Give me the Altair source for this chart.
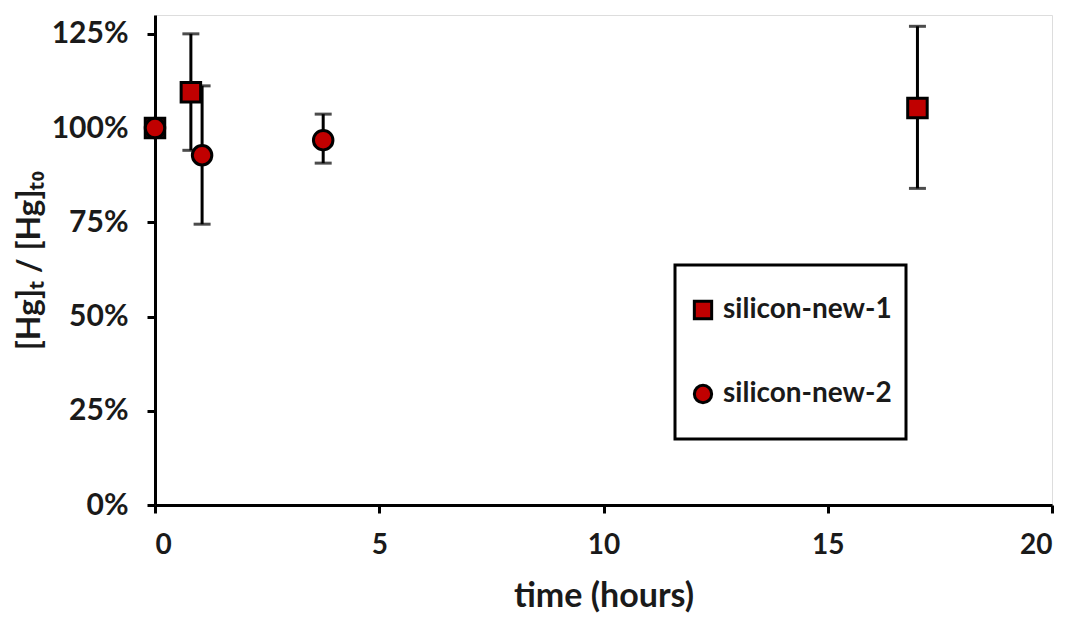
import altair as alt
import pandas as pd

# data
series = ["silicon-new-1", "silicon-new-1", "silicon-new-1",
          "silicon-new-2", "silicon-new-2", "silicon-new-2"]
time_h = [0.0, 0.8, 17.0, 0.0, 1.05, 3.75]
ratio = [1.00, 1.095, 1.053, 1.00, 0.928, 0.968]
err_lo = [1.00, 0.941, 0.84, 1.00, 0.745, 0.907]
err_hi = [1.00, 1.25, 1.27, 1.00, 1.112, 1.037]
x_ticks = [0, 5, 10, 15, 20]
y_ticks = [0, 0.25, 0.5, 0.75, 1.0, 1.25]
series_names = ["silicon-new-1", "silicon-new-2"]

df = pd.DataFrame({"series": series, "time": time_h, "ratio": ratio,
                   "lo": err_lo, "hi": err_hi})
err_df = df[df["hi"] > df["lo"]]

FONT = "Lato"
RED = "#C00000"
TXT = "#1a1a1a"

xs = alt.Scale(domain=[0, 20], nice=False)
ys = alt.Scale(domain=[0, 1.3], nice=False)

x_axis = alt.Axis(values=x_ticks, title="time (hours)", grid=False,
                  domainWidth=3, domainColor="black", tickWidth=3, tickSize=8,
                  tickColor="black", labelFont=FONT, labelFontSize=28,
                  labelFontWeight="bold", labelColor=TXT, labelPadding=18,
                  titleFont=FONT, titleFontSize=34, titleFontWeight="bold",
                  titleColor=TXT, titlePadding=20)
y_axis = alt.Axis(values=y_ticks, format=".0%", title="[Hg]ₜ / [Hg]ₜ₀", grid=False,
                  domainWidth=3, domainColor="black", tickWidth=3, tickSize=8,
                  tickColor="black", labelFont=FONT, labelFontSize=30,
                  labelFontWeight="bold", labelColor=TXT, labelPadding=19,
                  titleFont=FONT, titleFontSize=32, titleFontWeight="bold",
                  titleColor=TXT, titlePadding=5)

legend = alt.Legend(title=None, orient="none", legendX=520, legendY=250,
                    strokeColor="black", fillColor="white", padding=14,
                    clipHeight=62, rowPadding=22, symbolSize=300,
                    symbolStrokeWidth=3, labelFont=FONT, labelFontSize=28,
                    labelFontWeight="bold", labelColor=TXT, labelOffset=6,
                    labelLimit=400)

rules = alt.Chart(err_df).mark_rule(color="black", strokeWidth=3).encode(
    x=alt.X("time:Q", scale=xs, axis=x_axis),
    y=alt.Y("lo:Q", scale=ys, axis=y_axis),
    y2="hi:Q",
)
cap_lo = alt.Chart(err_df).mark_tick(color="black", thickness=3, size=17,
                                     orient="horizontal").encode(
    x=alt.X("time:Q", scale=xs), y=alt.Y("lo:Q", scale=ys))
cap_hi = alt.Chart(err_df).mark_tick(color="black", thickness=3, size=17,
                                     orient="horizontal").encode(
    x=alt.X("time:Q", scale=xs), y=alt.Y("hi:Q", scale=ys))

points = alt.Chart(df).mark_point(filled=False, fillOpacity=1, strokeWidth=3,
                                  size=380, opacity=1).encode(
    x=alt.X("time:Q", scale=xs),
    y=alt.Y("ratio:Q", scale=ys),
    shape=alt.Shape("series:N",
                    scale=alt.Scale(domain=series_names, range=["square", "circle"]),
                    legend=legend),
    fill=alt.Fill("series:N",
                  scale=alt.Scale(domain=series_names, range=[RED, RED]),
                  legend=legend),
    stroke=alt.Stroke("series:N",
                      scale=alt.Scale(domain=series_names, range=["black", "black"]),
                      legend=legend),
)

chart = alt.layer(rules, cap_lo, cap_hi, points).properties(
    width=897, height=490,
    autosize=alt.AutoSizeParams(type="none"),
    padding={"left": 147, "top": 7, "right": 13, "bottom": 110},
).configure_view(stroke=None).configure(background="white").configure_legend(
    strokeWidth=3)

chart.save("out.html", embed_options={"renderer": "svg", "actions": False})
